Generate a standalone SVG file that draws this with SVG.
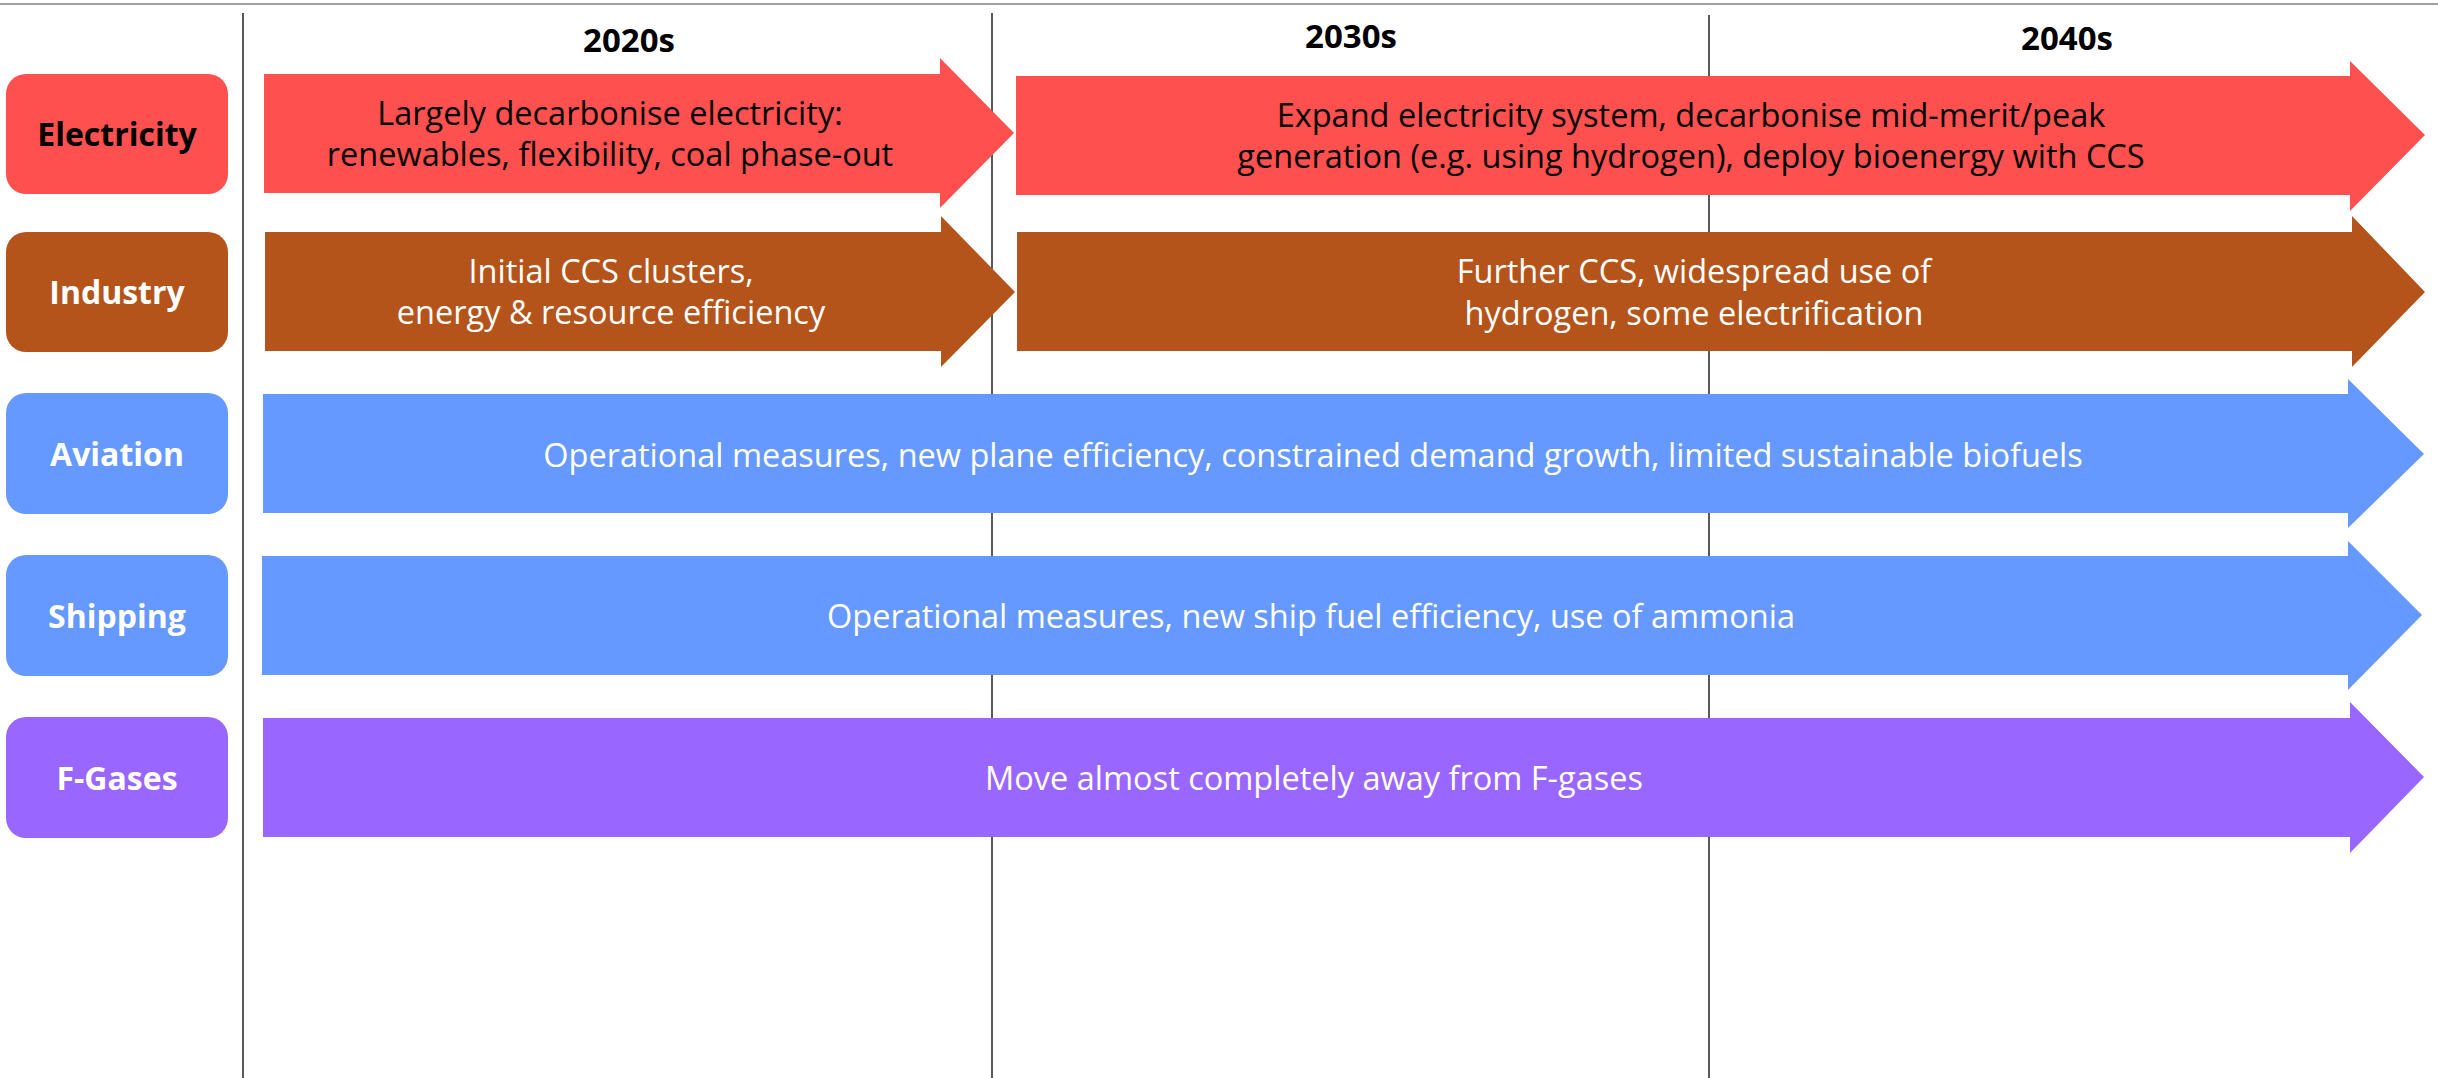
<svg xmlns="http://www.w3.org/2000/svg" width="2438" height="1078" viewBox="0 0 2438 1078">
<style>
  text { font-family: "Open Sans", "Noto Sans", "Liberation Sans", sans-serif; text-anchor: middle; }
  .year { font-size: 33px; font-weight: bold; fill: #000; }
  .lbl { font-size: 32px; font-weight: bold; }
  .body { font-size: 32.5px; }
  .grid { stroke: #222; stroke-width: 1.5; fill: none; }
  .red { fill: #FF5050; }
  .brown { fill: #B4541B; }
  .blue { fill: #6699FF; }
  .purple { fill: #9966FF; }
  .w { fill: #FFFFFF; }
  .k { fill: #000000; }
</style>
<rect x="0" y="0" width="2438" height="1078" fill="#FFFFFF"/>
<g id="grid">
  <line x1="0" y1="4" x2="2438" y2="4" stroke="#A0A0A0" stroke-width="2"/>
  <line class="grid" x1="243" y1="13" x2="243" y2="1078"/>
  <line class="grid" x1="992" y1="13" x2="992" y2="1078"/>
  <line class="grid" x1="1709" y1="15" x2="1709" y2="1078"/>
</g>
<g id="years">
  <text class="year" x="629" y="52">2020s</text>
  <text class="year" x="1351" y="48">2030s</text>
  <text class="year" x="2067" y="50">2040s</text>
</g>
<g id="label-electricity">
  <rect class="red" x="6" y="74" width="222" height="120" rx="20"/>
  <text class="lbl k" x="117" y="146">Electricity</text>
</g>
<g id="label-industry">
  <rect class="brown" x="6" y="232" width="222" height="120" rx="20"/>
  <text class="lbl w" x="117" y="304">Industry</text>
</g>
<g id="label-aviation">
  <rect class="blue" x="6" y="393" width="222" height="121" rx="20"/>
  <text class="lbl w" x="117" y="466">Aviation</text>
</g>
<g id="label-shipping">
  <rect class="blue" x="6" y="555" width="222" height="121" rx="20"/>
  <text class="lbl w" x="117" y="628">Shipping</text>
</g>
<g id="label-fgases">
  <rect class="purple" x="6" y="717" width="222" height="121" rx="20"/>
  <text class="lbl w" x="117" y="790">F-Gases</text>
</g>
<g id="arrow-electricity-2020s">
  <path class="red" d="M264,74 H940 V58 L1014,133 L940,208 V193 H264 Z"/>
  <text class="body k" x="610" y="125">Largely decarbonise electricity:</text>
  <text class="body k" x="610" y="166">renewables, flexibility, coal phase-out</text>
</g>
<g id="arrow-electricity-2030s">
  <path class="red" d="M1016,76 H2350 V61 L2425,135 L2350,211 V195 H1016 Z"/>
  <text class="body k" x="1691" y="127">Expand electricity system, decarbonise mid-merit/peak</text>
  <text class="body k" x="1691" y="168">generation (e.g. using hydrogen), deploy bioenergy with CCS</text>
</g>
<g id="arrow-industry-2020s">
  <path class="brown" d="M265,232 H941 V216 L1015,292 L941,367 V351 H265 Z"/>
  <text class="body w" x="611" y="283">Initial CCS clusters,</text>
  <text class="body w" x="611" y="324">energy &amp; resource efficiency</text>
</g>
<g id="arrow-industry-2030s">
  <path class="brown" d="M1017,232 H2352 V216 L2425,292 L2352,367 V351 H1017 Z"/>
  <text class="body w" x="1694" y="283">Further CCS, widespread use of</text>
  <text class="body w" x="1694" y="325">hydrogen, some electrification</text>
</g>
<g id="arrow-aviation">
  <path class="blue" d="M263,394 H2348 V379 L2424,454 L2348,528 V513 H263 Z"/>
  <text class="body w" x="1313" y="467">Operational measures, new plane efficiency, constrained demand growth, limited sustainable biofuels</text>
</g>
<g id="arrow-shipping">
  <path class="blue" d="M262,556 H2348 V541 L2422,615 L2348,690 V675 H262 Z"/>
  <text class="body w" x="1311" y="628">Operational measures, new ship fuel efficiency, use of ammonia</text>
</g>
<g id="arrow-fgases">
  <path class="purple" d="M263,718 H2350 V702 L2424,777 L2350,853 V837 H263 Z"/>
  <text class="body w" x="1314" y="790">Move almost completely away from F-gases</text>
</g>
</svg>
